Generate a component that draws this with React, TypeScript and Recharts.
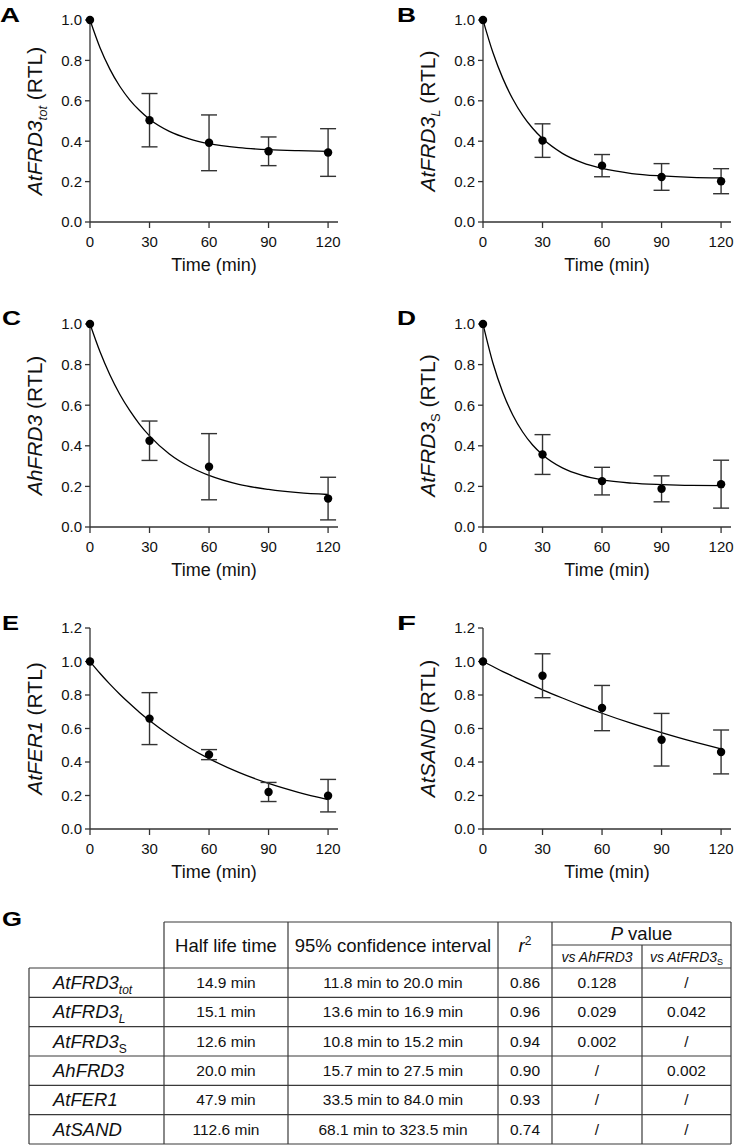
import React from 'react';
import { ComposedChart, Line, Scatter, ErrorBar, XAxis, YAxis } from 'recharts';

const FONT = "'Liberation Sans', Arial, Helvetica, sans-serif";
const AXIS = '#333';

// sampling times (min)
const TIMES = [0, 30, 60, 90, 120];
const FIT_TIMES = [0, 5, 10, 15, 20, 25, 30, 40, 50, 60, 75, 90, 105, 120];
const X_TICKS = [0, 30, 60, 90, 120];
const Y_TICKS_1 = [0, 0.2, 0.4, 0.6, 0.8, 1.0];
const Y_TICKS_12 = [0, 0.2, 0.4, 0.6, 0.8, 1.0, 1.2];

// A - AtFRD3 tot
const A_MEAN = [1.0, 0.504, 0.392, 0.35, 0.344];
const A_SD = [0, 0.132, 0.138, 0.071, 0.118];
const A_FIT = [1.0, 0.864, 0.757, 0.672, 0.605, 0.552, 0.509, 0.449, 0.412, 0.388, 0.368, 0.358, 0.353, 0.35];

// B - AtFRD3 L
const B_MEAN = [1.0, 0.403, 0.279, 0.223, 0.202];
const B_SD = [0, 0.083, 0.055, 0.066, 0.062];
const B_FIT = [1.0, 0.839, 0.711, 0.609, 0.528, 0.464, 0.413, 0.34, 0.294, 0.265, 0.24, 0.228, 0.221, 0.218];

// C - AhFRD3 (no 90 min point)
const C_MEAN = [1.0, 0.425, 0.297, null, 0.14];
const C_SD = [0, 0.097, 0.163, null, 0.105];
const C_FIT = [1.0, 0.864, 0.75, 0.654, 0.574, 0.506, 0.449, 0.36, 0.298, 0.254, 0.21, 0.185, 0.169, 0.16];

// D - AtFRD3 S
const D_MEAN = [1.0, 0.357, 0.226, 0.188, 0.211];
const D_SD = [0, 0.098, 0.068, 0.064, 0.118];
const D_FIT = [1.0, 0.808, 0.663, 0.552, 0.468, 0.404, 0.356, 0.291, 0.254, 0.232, 0.216, 0.209, 0.205, 0.204];

// E - AtFER1
const E_MEAN = [1.0, 0.659, 0.444, 0.221, 0.199];
const E_SD = [0, 0.155, 0.03, 0.057, 0.097];
const E_FIT = [1.0, 0.93, 0.865, 0.805, 0.749, 0.696, 0.648, 0.561, 0.485, 0.42, 0.338, 0.272, 0.219, 0.176];

// F - AtSAND
const F_MEAN = [1.0, 0.915, 0.722, 0.533, 0.46];
const F_SD = [0, 0.131, 0.135, 0.157, 0.131];
const F_FIT = [1.0, 0.97, 0.94, 0.912, 0.884, 0.857, 0.831, 0.782, 0.735, 0.691, 0.63, 0.575, 0.524, 0.478];

// table G
const ROW_GENES = ['AtFRD3', 'AtFRD3', 'AtFRD3', 'AhFRD3', 'AtFER1', 'AtSAND'];
const ROW_SUBS = ['tot', 'L', 'S', '', '', ''];
const HALF_LIFE = ['14.9 min', '15.1 min', '12.6 min', '20.0 min', '47.9 min', '112.6 min'];
const CI_95 = [
  '11.8 min to 20.0 min',
  '13.6 min to 16.9 min',
  '10.8 min to 15.2 min',
  '15.7 min to 27.5 min',
  '33.5 min to 84.0 min',
  '68.1 min to 323.5 min',
];
const R_SQUARED = ['0.86', '0.96', '0.94', '0.90', '0.93', '0.74'];
const P_VS_AH = ['0.128', '0.029', '0.002', '/', '/', '/'];
const P_VS_ATS = ['/', '0.042', '/', '0.002', '/', '/'];

const Dot = (props: any) => {
  if (props.cx == null || props.cy == null) return null;
  return <circle cx={props.cx} cy={props.cy} r={4.2} fill="#000" />;
};

const YTitle = ({ viewBox, gene, sub, subItalic }: any) => {
  const cx = viewBox.x + viewBox.width - 56;
  const cy = viewBox.y + viewBox.height / 2;
  return (
    <text
      x={cx}
      y={cy + 7.5}
      transform={`rotate(-90, ${cx}, ${cy})`}
      textAnchor="middle"
      fontFamily={FONT}
      fontSize={21}
      fill="#111"
    >
      <tspan fontStyle="italic">{gene}</tspan>
      {sub ? (
        <tspan fontSize={13} dy={5} fontStyle={subItalic ? 'italic' : 'normal'}>
          {sub}
        </tspan>
      ) : null}
      <tspan dy={sub ? -5 : 0}>{' (RTL)'}</tspan>
    </text>
  );
};

interface PanelProps {
  left: number;
  plotTop: number;
  plotH: number;
  yMax: number;
  gene: string;
  sub?: string;
  subItalic?: boolean;
  mean: (number | null)[];
  sd: (number | null)[];
  fit: number[];
}

const Panel: React.FC<PanelProps> = ({ left, plotTop, plotH, yMax, gene, sub, subItalic, mean, sd, fit }) => {
  const T = 10;
  const XH = 58;
  const points = TIMES.map((t, i) => ({ t, y: mean[i], sd: sd[i] })).filter((p) => p.y != null);
  const curve = FIT_TIMES.map((t, i) => ({ t, y: fit[i] }));
  const yTicks = yMax > 1 ? Y_TICKS_12 : Y_TICKS_1;
  return (
    <div style={{ position: 'absolute', left, top: plotTop - T }}>
      <ComposedChart width={350} height={T + plotH + XH} margin={{ top: T, right: 12, left: 0, bottom: 0 }}>
        <XAxis
          type="number"
          dataKey="t"
          domain={[0, 125]}
          ticks={X_TICKS}
          height={XH}
          tickSize={6}
          tickMargin={8}
          axisLine={{ stroke: AXIS, strokeWidth: 1.3 }}
          tickLine={{ stroke: AXIS, strokeWidth: 1.3 }}
          tick={{ fontSize: 15, fontFamily: FONT, fill: '#111' }}
          label={{ value: 'Time (min)', position: 'insideBottom', offset: 9, fontSize: 18, fontFamily: FONT, fill: '#111' }}
        />
        <YAxis
          type="number"
          domain={[0, yMax]}
          ticks={yTicks}
          width={90}
          tickSize={5}
          tickMargin={3}
          tickFormatter={(v: number) => v.toFixed(1)}
          axisLine={{ stroke: AXIS, strokeWidth: 1.3 }}
          tickLine={{ stroke: AXIS, strokeWidth: 1.3 }}
          tick={{ fontSize: 15, fontFamily: FONT, fill: '#111' }}
          label={{ content: (p: any) => <YTitle {...p} gene={gene} sub={sub} subItalic={subItalic} /> }}
        />
        <Line
          data={curve}
          dataKey="y"
          type="monotone"
          stroke="#000"
          strokeWidth={1.3}
          dot={false}
          activeDot={false}
          isAnimationActive={false}
        />
        <Scatter data={points} dataKey="y" fill="#000" shape={Dot} isAnimationActive={false}>
          <ErrorBar dataKey="sd" direction="y" width={8} stroke={AXIS} strokeWidth={1.4} />
        </Scatter>
      </ComposedChart>
    </div>
  );
};

const COL_X = [29, 164, 288, 498, 552, 642, 731];
const HEAD_TOP = 922;
const HEAD_MID = 945;
const HEAD_BOT = 968;
const ROW_H = 29.33;
const LINE = '#3a3a3a';

const Table: React.FC = () => {
  const bottom = HEAD_BOT + ROW_H * ROW_GENES.length;
  const mid = (a: number, b: number) => (a + b) / 2;
  const cells = [HALF_LIFE, CI_95, R_SQUARED, P_VS_AH, P_VS_ATS];
  return (
    <g fontFamily={FONT} fill="#111">
      {/* header frame */}
      <line x1={COL_X[1]} x2={COL_X[6]} y1={HEAD_TOP} y2={HEAD_TOP} stroke={LINE} strokeWidth={1.2} />
      <line x1={COL_X[4]} x2={COL_X[6]} y1={HEAD_MID} y2={HEAD_MID} stroke={LINE} strokeWidth={1.2} />
      {[1, 2, 3, 4, 6].map((c) => (
        <line key={c} x1={COL_X[c]} x2={COL_X[c]} y1={HEAD_TOP} y2={bottom} stroke={LINE} strokeWidth={1.2} />
      ))}
      <line x1={COL_X[5]} x2={COL_X[5]} y1={HEAD_MID} y2={bottom} stroke={LINE} strokeWidth={1.2} />
      <line x1={COL_X[0]} x2={COL_X[0]} y1={HEAD_BOT} y2={bottom} stroke={LINE} strokeWidth={1.2} />
      {ROW_GENES.map((_, i) => (
        <line
          key={i}
          x1={COL_X[0]}
          x2={COL_X[6]}
          y1={HEAD_BOT + ROW_H * i}
          y2={HEAD_BOT + ROW_H * i}
          stroke={LINE}
          strokeWidth={1.2}
        />
      ))}
      <line x1={COL_X[0]} x2={COL_X[6]} y1={bottom} y2={bottom} stroke={LINE} strokeWidth={1.2} />

      {/* header text */}
      <text x={mid(COL_X[1], COL_X[2])} y={mid(HEAD_TOP, HEAD_BOT) + 6.5} textAnchor="middle" fontSize={18.5}>
        Half life time
      </text>
      <text x={mid(COL_X[2], COL_X[3])} y={mid(HEAD_TOP, HEAD_BOT) + 6.5} textAnchor="middle" fontSize={18.5}>
        95% confidence interval
      </text>
      <text x={mid(COL_X[3], COL_X[4])} y={mid(HEAD_TOP, HEAD_BOT) + 6.5} textAnchor="middle" fontSize={18.5}>
        <tspan fontStyle="italic">r</tspan>
        <tspan fontSize={12} dy={-7}>2</tspan>
      </text>
      <text x={mid(COL_X[4], COL_X[6])} y={mid(HEAD_TOP, HEAD_MID) + 6.5} textAnchor="middle" fontSize={18.5}>
        <tspan fontStyle="italic">P</tspan>
        <tspan> value</tspan>
      </text>
      <text x={mid(COL_X[4], COL_X[5])} y={mid(HEAD_MID, HEAD_BOT) + 5} textAnchor="middle" fontSize={14} fontStyle="italic">
        vs AhFRD3
      </text>
      <text x={mid(COL_X[5], COL_X[6])} y={mid(HEAD_MID, HEAD_BOT) + 5} textAnchor="middle" fontSize={14} fontStyle="italic">
        vs AtFRD3
        <tspan fontSize={9} dy={3} fontStyle="normal">S</tspan>
      </text>

      {/* rows */}
      {ROW_GENES.map((g, i) => {
        const cy = HEAD_BOT + ROW_H * (i + 0.5);
        return (
          <g key={g + i}>
            <text x={53} y={cy + 6.5} fontSize={18.5} fontStyle="italic">
              {g}
              {ROW_SUBS[i] ? (
                <tspan fontSize={12} dy={5} fontStyle={ROW_SUBS[i] === 'S' ? 'normal' : 'italic'}>
                  {ROW_SUBS[i]}
                </tspan>
              ) : null}
            </text>
            {cells.map((col, c) => (
              <text key={c} x={mid(COL_X[c + 1], COL_X[c + 2])} y={cy + 5.5} textAnchor="middle" fontSize={15.5}>
                {col[i]}
              </text>
            ))}
          </g>
        );
      })}
    </g>
  );
};

const LETTERS = ['A', 'B', 'C', 'D', 'E', 'F', 'G'];
const LETTER_X = [0, 397, 2, 397, 2, 397, 2];
const LETTER_Y = [14, 14, 317, 317, 622, 622, 918];
const LETTER_W = [20, 19, 19, 19, 17, 19, 20];

export default function App() {
  return (
    <div style={{ position: 'absolute', left: 0, top: 0, width: 735, height: 1146, background: '#fff' }}>
      <svg width={735} height={1146} style={{ position: 'absolute', left: 0, top: 0 }}>
        {LETTERS.map((l, i) => (
          <text
            key={l}
            x={LETTER_X[i]}
            y={LETTER_Y[i] + 7.5}
            fontFamily={FONT}
            fontWeight="bold"
            fontSize={21}
            textLength={LETTER_W[i]}
            lengthAdjust="spacingAndGlyphs"
            fill="#000"
          >
            {l}
          </text>
        ))}
        <Table />
      </svg>
      <Panel left={0} plotTop={20} plotH={202} yMax={1} gene="AtFRD3" sub="tot" subItalic mean={A_MEAN} sd={A_SD} fit={A_FIT} />
      <Panel left={393} plotTop={20} plotH={202} yMax={1} gene="AtFRD3" sub="L" subItalic mean={B_MEAN} sd={B_SD} fit={B_FIT} />
      <Panel left={0} plotTop={324} plotH={203} yMax={1} gene="AhFRD3" mean={C_MEAN} sd={C_SD} fit={C_FIT} />
      <Panel left={393} plotTop={324} plotH={203} yMax={1} gene="AtFRD3" sub="S" mean={D_MEAN} sd={D_SD} fit={D_FIT} />
      <Panel left={0} plotTop={628} plotH={201} yMax={1.2} gene="AtFER1" mean={E_MEAN} sd={E_SD} fit={E_FIT} />
      <Panel left={393} plotTop={628} plotH={201} yMax={1.2} gene="AtSAND" mean={F_MEAN} sd={F_SD} fit={F_FIT} />
    </div>
  );
}
